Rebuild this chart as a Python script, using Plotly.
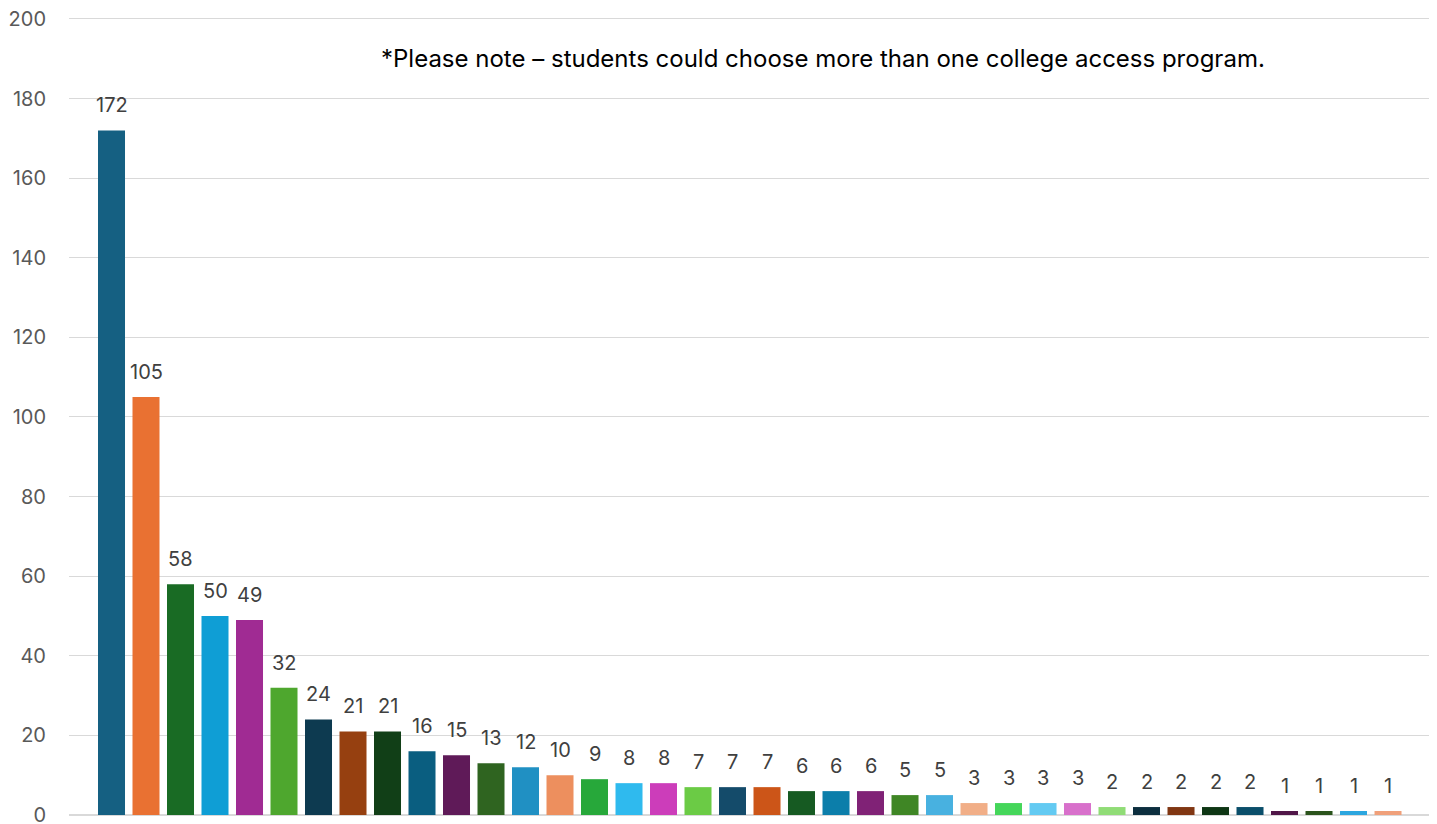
import plotly.graph_objects as go

categories = [f"Program {i+1}" for i in range(38)]
values = [172, 105, 58, 50, 49, 32, 24, 21, 21, 16, 15, 13, 12, 10, 9, 8, 8, 7, 7, 7,
          6, 6, 6, 5, 5, 3, 3, 3, 3, 2, 2, 2, 2, 2, 1, 1, 1, 1]
colors = ["#156082", "#E97132", "#196B24", "#0F9ED5", "#A02B93", "#4EA72E",
          "#0D3A50", "#964010", "#113F17", "#0A5E80", "#5F1A58", "#2F6420",
          "#2090C3", "#ED8F5E", "#27A83A", "#2FBAEE", "#CC3DBA", "#6BCB45",
          "#144B6A", "#CC5518", "#165A22", "#0C7EAA", "#802276", "#3F8625",
          "#48B1E0", "#F1AE87", "#45D65A", "#63CAF2", "#D870CB", "#90DC76",
          "#0C2E3E", "#803612", "#0E3614", "#0A4E6A", "#501648", "#2A531B",
          "#2CA6DF", "#F0A07A"]
y_ticks = [0, 20, 40, 60, 80, 100, 120, 140, 160, 180, 200]
note = "*Please note \u2013 students could choose more than one college access program."

FONT = "Inter, Liberation Sans, Arial"

fig = go.Figure()
fig.add_trace(go.Bar(
    x=list(range(len(values))), y=values,
    marker=dict(color=colors, line=dict(width=0)),
    hoverinfo="skip",
))

for i, v in enumerate(values):
    fig.add_annotation(x=i, y=v, text=str(v), showarrow=False,
                       yanchor="bottom", yshift=11,
                       font=dict(family=FONT, size=20, color="#404040"))

fig.add_annotation(xref="paper", yref="y", x=0.553, y=190, text=note,
                   showarrow=False, xanchor="center", yanchor="middle",
                   font=dict(family=FONT, size=24, color="#000000"))

# page body has an 8px margin; compensate in the figure margins
fig.update_layout(
    width=1429, height=816,
    margin=dict(l=61, r=5, t=7, b=9),
    paper_bgcolor="white", plot_bgcolor="white",
    showlegend=False, bargap=0.217,
    xaxis=dict(range=[-1.232, 38.275], showticklabels=False, showgrid=False,
               zeroline=False, showline=False, ticks=""),
    yaxis=dict(range=[0, 201], tickvals=y_ticks, showgrid=True,
               gridcolor="#D9D9D9", gridwidth=1.3, zeroline=True,
               zerolinecolor="#D9D9D9", zerolinewidth=1.5, showline=False,
               ticks="", ticklabelstandoff=22, automargin=False,
               ticklabeloverflow="allow",
               tickfont=dict(family=FONT, size=20, color="#595959")),
)

fig.write_html("out.html")
